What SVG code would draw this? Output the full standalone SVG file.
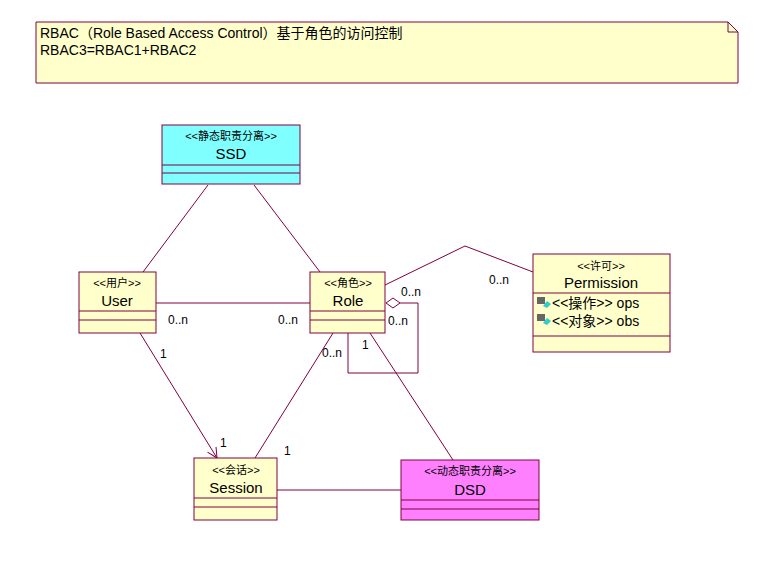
<svg xmlns="http://www.w3.org/2000/svg" width="776" height="561" viewBox="0 0 776 561">
<style>
.box{stroke:#800040;stroke-width:1}
.y{fill:#ffffcc}
.ln{stroke:#800040;stroke-width:1;fill:none}
text{font-family:"Liberation Sans","Noto Sans CJK SC",sans-serif;fill:#000}
.st{font-size:11px;text-anchor:middle}
.nm{font-size:15px;text-anchor:middle}
.lb{font-size:12px}
</style>
<defs><marker id="ar" markerWidth="12" markerHeight="12" refX="11" refY="6" orient="auto" markerUnits="userSpaceOnUse"><path d="M1,1 L11,6 L1,11" fill="none" stroke="#800040"/></marker></defs>
<rect width="776" height="561" fill="#fff"/>
<g id="note">
<path class="box y" d="M36,22 H728 L738,32 V83 H36 Z"/>
<path class="ln" d="M728,22 V32 H738"/>
<text x="40" y="38" font-size="14">RBAC（Role Based Access Control）基于角色的访问控制</text>
<text x="40" y="55" font-size="14">RBAC3=RBAC1+RBAC2</text>
</g>
<g id="connectors">
<line class="ln" x1="208" y1="185" x2="143" y2="272"/>
<line class="ln" x1="254" y1="185" x2="320" y2="272"/>
<line class="ln" x1="156" y1="303" x2="310" y2="303"/>
<polyline class="ln" points="385,285 465,246 533,272"/>
<path class="ln" d="M386,303 L393,298 L400,303 L393,308 Z" fill="#fff"/>
<polyline class="ln" points="400,303 418,303 418,373 348,373 348,333"/>
<line class="ln" x1="140" y1="333" x2="217" y2="458" marker-end="url(#ar)"/>
<line class="ln" x1="333" y1="333" x2="255" y2="458"/>
<line class="ln" x1="370" y1="333" x2="453" y2="460"/>
<line class="ln" x1="277" y1="490" x2="401" y2="490"/>
<text class="lb" x="168" y="324">0..n</text>
<text class="lb" x="278" y="324">0..n</text>
<text class="lb" x="160" y="358">1</text>
<text class="lb" x="220" y="447">1</text>
<text class="lb" x="322" y="357">0..n</text>
<text class="lb" x="362" y="349">1</text>
<text class="lb" x="284" y="455">1</text>
<text class="lb" x="401" y="296">0..n</text>
<text class="lb" x="388" y="325">0..n</text>
<text class="lb" x="489" y="284">0..n</text>
</g>
<g id="ssd">
<rect class="box" x="162" y="125" width="138" height="59" fill="#80ffff"/>
<line class="ln" x1="162" y1="165" x2="300" y2="165"/><line class="ln" x1="162" y1="173" x2="300" y2="173"/>
<text class="st" x="231" y="140">&lt;&lt;静态职责分离&gt;&gt;</text>
<text class="nm" x="231" y="159">SSD</text>
</g>
<g id="user">
<rect class="box y" x="79" y="272" width="77" height="61"/>
<line class="ln" x1="79" y1="311" x2="156" y2="311"/><line class="ln" x1="79" y1="320" x2="156" y2="320"/>
<text class="st" x="117" y="287">&lt;&lt;用户&gt;&gt;</text>
<text class="nm" x="117" y="306">User</text>
</g>
<g id="role">
<rect class="box y" x="310" y="272" width="75" height="61"/>
<line class="ln" x1="310" y1="311" x2="385" y2="311"/><line class="ln" x1="310" y1="320" x2="385" y2="320"/>
<text class="st" x="348" y="287">&lt;&lt;角色&gt;&gt;</text>
<text class="nm" x="348" y="306">Role</text>
</g>
<g id="permission">
<rect class="box y" x="533" y="254" width="137" height="98"/>
<line class="ln" x1="533" y1="293" x2="670" y2="293"/><line class="ln" x1="533" y1="336" x2="670" y2="336"/>
<text class="st" x="601" y="270">&lt;&lt;许可&gt;&gt;</text>
<text class="nm" x="601" y="288">Permission</text>
<rect x="537" y="297" width="8" height="7" fill="#666"/><path d="M543,306 l4,-5 l4,3 l-4,4z" fill="#3cc"/>
<rect x="537" y="314" width="8" height="7" fill="#666"/><path d="M543,323 l4,-5 l4,3 l-4,4z" fill="#3cc"/>
<text x="552" y="308" font-size="14">&lt;&lt;操作&gt;&gt; ops</text>
<text x="552" y="326" font-size="14">&lt;&lt;对象&gt;&gt; obs</text>
</g>
<g id="session">
<rect class="box y" x="194" y="458" width="83" height="62"/>
<line class="ln" x1="194" y1="498" x2="277" y2="498"/><line class="ln" x1="194" y1="507" x2="277" y2="507"/>
<text class="st" x="236" y="474">&lt;&lt;会话&gt;&gt;</text>
<text class="nm" x="236" y="493">Session</text>
</g>
<g id="dsd">
<rect class="box" x="401" y="460" width="138" height="60" fill="#ff80ff"/>
<line class="ln" x1="401" y1="500" x2="539" y2="500"/><line class="ln" x1="401" y1="509" x2="539" y2="509"/>
<text class="st" x="470" y="475">&lt;&lt;动态职责分离&gt;&gt;</text>
<text class="nm" x="470" y="495">DSD</text>
</g>
</svg>
